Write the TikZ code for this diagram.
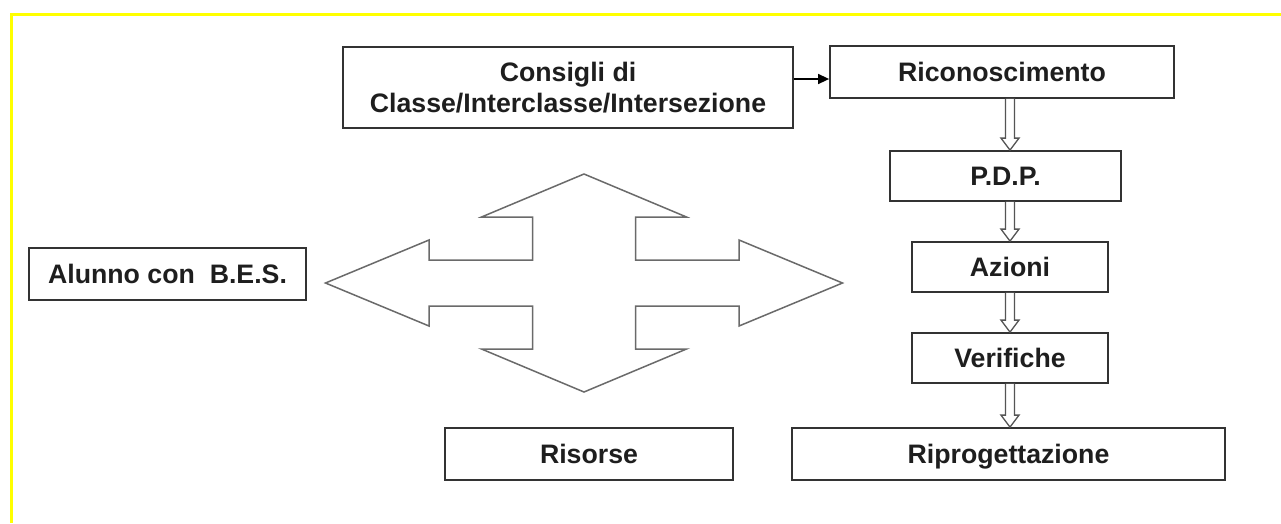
\documentclass[tikz,border=0pt]{standalone}
\usepackage{fontspec}
\setmainfont{Liberation Sans}
\usetikzlibrary{arrows.meta,calc}
\definecolor{boxc}{HTML}{333333}
\definecolor{txtc}{HTML}{1E1E1E}
\definecolor{quadc}{HTML}{6A6A6A}
\definecolor{holc}{HTML}{555555}
\definecolor{ylw}{HTML}{FFFF00}
\tikzset{
  fbox/.style={draw=boxc, line width=1.8pt, fill=white, inner sep=0pt, align=center,
    text=txtc, font=\fontsize{26.7}{31}\selectfont\bfseries},
  sbox/.style={fbox, text height=19pt, text depth=0pt},
  hol/.style={draw=holc, line width=1.3pt, fill=white, line join=miter},
  quad/.style={draw=quadc, line width=1.5pt, fill=white, line join=miter},
  arr/.style={draw=black, line width=1.5pt, -{Triangle[length=11pt,width=10pt]}}
}
\newcommand\hollowarr[2]{%
  \draw[hol] let \p1=(#1.south -| ax), \p2=(#2.north -| ax) in
    (\x1-4.5pt,\y1) -- (\x1-4.5pt,\y2+12pt) -- (\x1-9pt,\y2+12pt) -- (\x2,\y2)
    -- (\x1+9pt,\y2+12pt) -- (\x1+4.5pt,\y2+12pt) -- (\x1+4.5pt,\y1);}
\begin{document}
\begin{tikzpicture}[x=1pt,y=-1pt]
\useasboundingbox (0,0) rectangle (1281,523);
\fill[white] (0,0) rectangle (1281,523);
\draw[ylw, line width=3pt] (11.5,523) -- (11.5,14.5) -- (1281,14.5);

\coordinate (ax) at (1010,0);
\coordinate (qc) at (584,283);

\node[fbox, minimum width=450pt, minimum height=81pt] (cons) at (568,87.5)
  {Consigli di\\Classe/Interclasse/Intersezione};
\node[sbox, minimum width=344pt, minimum height=52pt] (ric) at (1002,72) {Riconoscimento};
\node[sbox, minimum width=231pt, minimum height=50pt] (pdp) at (1005.5,176) {P.D.P.};
\node[sbox, minimum width=196pt, minimum height=50pt] (az) at (1010,267) {Azioni};
\node[sbox, minimum width=196pt, minimum height=50pt] (ver) at (1010,358) {Verifiche};
\node[sbox, minimum width=433pt, minimum height=52pt] (rip) at (1008.5,454) {Riprogettazione};
\node[sbox, minimum width=288pt, minimum height=52pt] (ris) at (589,454) {Risorse};
\node[sbox, minimum width=277pt, minimum height=52pt] (alu) at (167.5,274) {Alunno con\ \ B.E.S.};

\path (cons.east) ++(0,-8.5) coordinate (c1);
\draw[arr] (c1) -- (c1 -| ric.west);

\hollowarr{ric}{pdp}
\hollowarr{pdp}{az}
\hollowarr{az}{ver}
\hollowarr{ver}{rip}

\draw[quad] (qc) ++(0,-109) -- ++(102.5,43) -- ++(-51,0) -- ++(0,43) -- ++(103.5,0)
  -- ++(0,-20) -- ++(103.5,43) -- ++(-103.5,43) -- ++(0,-20) -- ++(-103.5,0)
  -- ++(0,43) -- ++(51,0) -- ++(-102.5,43) -- ++(-102.5,-43) -- ++(51,0)
  -- ++(0,-43) -- ++(-103.5,0) -- ++(0,20) -- ++(-103.5,-43) -- ++(103.5,-43)
  -- ++(0,20) -- ++(103.5,0) -- ++(0,-43) -- ++(-51,0) -- cycle;
\end{tikzpicture}
\end{document}
